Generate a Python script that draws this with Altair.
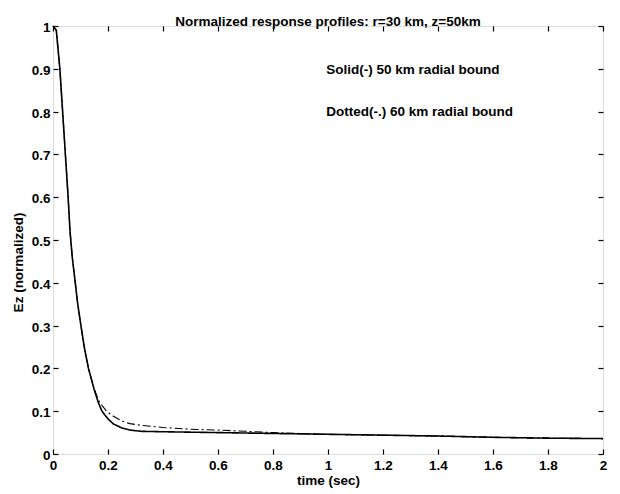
import altair as alt
import pandas as pd

FONT = "Liberation Sans"
FS = 13.5

# time (s) and normalized Ez for the 50 km radial bound (solid)
t_solid = [0.0, 0.012, 0.025, 0.035, 0.045, 0.055, 0.062, 0.07, 0.081, 0.09, 0.1015, 0.115,
           0.129, 0.15, 0.165, 0.178, 0.2, 0.22, 0.25, 0.28, 0.32, 0.4, 0.5, 0.6, 0.7, 0.8,
           0.9, 1.0, 1.2, 1.4, 1.6, 1.8, 2.0]
v_solid = [1.0, 0.99, 0.9, 0.8, 0.7, 0.6, 0.52, 0.46, 0.4, 0.35, 0.3, 0.245,
           0.2, 0.15, 0.12, 0.1, 0.082, 0.07, 0.061, 0.056, 0.053, 0.052, 0.051, 0.05, 0.049, 0.048,
           0.047, 0.046, 0.044, 0.042, 0.039, 0.037, 0.036]

# 60 km radial bound (dash-dot)
t_dash = [0.0, 0.012, 0.025, 0.035, 0.045, 0.055, 0.062, 0.07, 0.081, 0.09, 0.1015, 0.115,
          0.129, 0.15, 0.165, 0.18, 0.195, 0.22, 0.25, 0.28, 0.32, 0.4, 0.5, 0.6, 0.7, 0.8,
          0.9, 1.0, 1.2, 1.4, 1.6, 1.8, 2.0]
v_dash = [1.0, 0.99, 0.9, 0.8, 0.7, 0.6, 0.52, 0.46, 0.4, 0.35, 0.3, 0.245,
          0.2, 0.152, 0.126, 0.112, 0.1, 0.088, 0.077, 0.071, 0.067, 0.062, 0.058, 0.056, 0.053, 0.05,
          0.048, 0.046, 0.044, 0.042, 0.039, 0.037, 0.036]

series_names = ["Solid 50 km", "Dotted 60 km"]

x_ticks = [0, 0.2, 0.4, 0.6, 0.8, 1, 1.2, 1.4, 1.6, 1.8, 2]
y_ticks = [0, 0.1, 0.2, 0.3, 0.4, 0.5, 0.6, 0.7, 0.8, 0.9, 1]

note_x = [0.994, 0.994]
note_y = [0.897, 0.799]
note_text = ["Solid(-) 50 km radial bound", "Dotted(-.) 60 km radial bound"]

rows = []
for t, v in zip(t_solid, v_solid):
    rows.append({"t": t, "v": v, "series": series_names[0]})
for t, v in zip(t_dash, v_dash):
    rows.append({"t": t, "v": v, "series": series_names[1]})
df = pd.DataFrame(rows)
notes = pd.DataFrame({"t": note_x, "v": note_y, "label": note_text})

xs = alt.Scale(domain=[0, 2], nice=False, zero=False)
ys = alt.Scale(domain=[0, 1], nice=False, zero=False)

common = dict(tickColor="black", tickSize=5, offset=-5, domain=False, grid=False,
              labelColor="black", labelFont=FONT, labelFontSize=FS, labelFontWeight="bold",
              tickWidth=1.2, titleColor="black", titleFont=FONT, titleFontSize=FS,
              titleFontWeight="bold", labelFlush=False)

lines = alt.Chart(df).mark_line(color="black").encode(
    x=alt.X("t:Q", scale=xs, axis=alt.Axis(values=x_ticks, format="~g", title="time (sec)",
                                           labelPadding=4, titleX=275, titleY=31,
                                           titleAlign="center", titleBaseline="middle", **common)),
    y=alt.Y("v:Q", scale=ys, axis=alt.Axis(values=y_ticks, format="~g", title="Ez (normalized)",
                                           labelPadding=3, labelOffset=1.5, titleX=-39.5, titleY=236,
                                           titleAlign="center", titleBaseline="middle", **common)),
    strokeDash=alt.StrokeDash("series:N", scale=alt.Scale(domain=series_names, range=[[1, 0], [8, 3, 2, 3]]), legend=None),
    strokeWidth=alt.StrokeWidth("series:N", scale=alt.Scale(domain=series_names, range=[1.6, 1.1]), legend=None),
    order=alt.Order("t:Q"),
)

frame = alt.Chart(df).mark_line(opacity=0).encode(
    x=alt.X("t:Q", scale=xs, axis=alt.Axis(values=x_ticks, orient="top", labels=False, title=None, **common)),
    y=alt.Y("v:Q", scale=ys, axis=alt.Axis(values=y_ticks, orient="right", labels=False, title=None, **common)),
    detail="series:N",
)

text = alt.Chart(notes).mark_text(align="left", baseline="middle", font=FONT, fontSize=FS,
                                  fontWeight="bold", color="black").encode(
    x=alt.X("t:Q", scale=xs, axis=None),
    y=alt.Y("v:Q", scale=ys, axis=None),
    text="label:N",
)

chart = alt.layer(lines, frame, text).resolve_axis(x="independent", y="independent").properties(
    width=550, height=428,
    title=alt.TitleParams("Normalized response profiles: r=30 km, z=50km", font=FONT, fontSize=FS,
                          fontWeight="bold", color="black", offset=0, dy=8),
    autosize=alt.AutoSizeParams(type="none"),
    padding={"left": 45, "top": 18, "right": 8, "bottom": 35},
).configure_view(stroke="black", strokeWidth=1.5).configure(background="white")

chart.save("out.html", embed_options={"renderer": "svg", "actions": False})
